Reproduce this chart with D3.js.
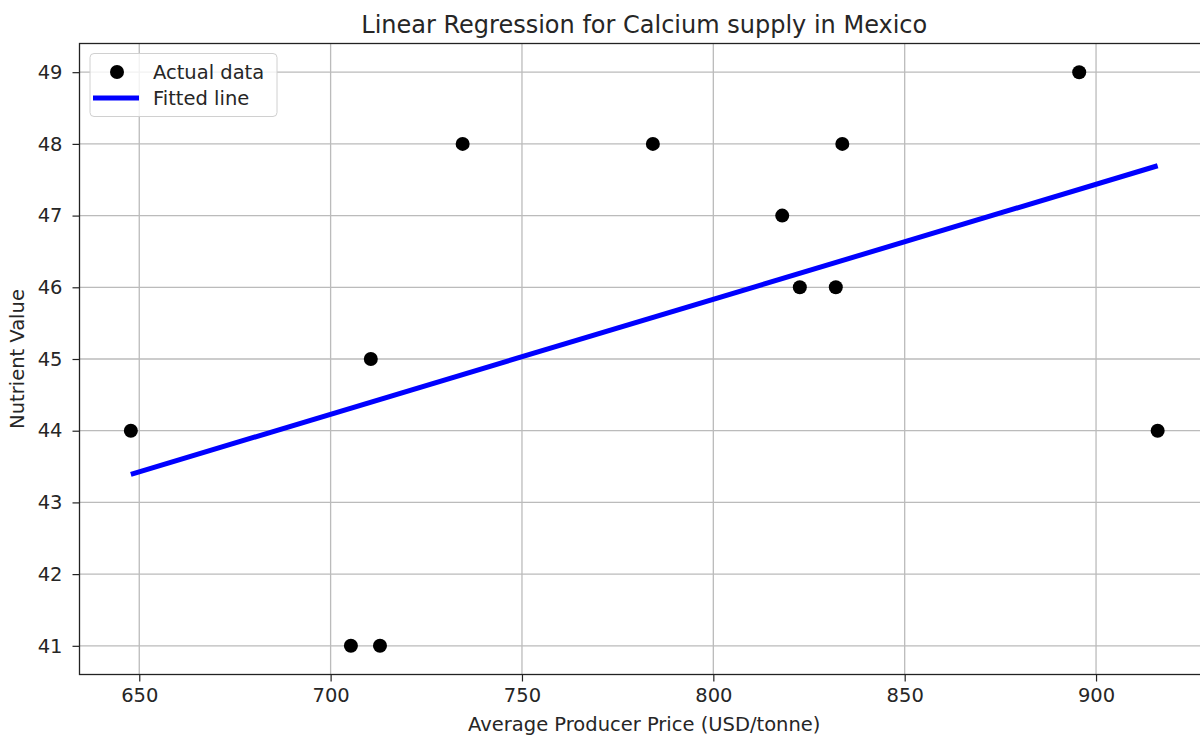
<!DOCTYPE html>
<html>
<head>
<meta charset="utf-8">
<script src="https://cdn.jsdelivr.net/npm/d3@7"></script>
<style>
  html, body { margin: 0; padding: 0; background: #fff; }
  svg { display: block; font-family: "DejaVu Sans", sans-serif; }
</style>
</head>
<body>
<svg id="chart" width="1200" height="737"></svg>
<script>
// Average producer price (USD/tonne) and nutrient value per observation
const prices = [647.8, 705.3, 712.9, 710.5, 734.5, 784.2, 833.7, 818.0, 822.6, 832.0, 895.6, 916.1];
const nutrients = [44, 41, 41, 45, 48, 48, 48, 47, 46, 46, 49, 44];

const xTicks = [650, 700, 750, 800, 850, 900];
const yTicks = [41, 42, 43, 44, 45, 46, 47, 48, 49];

const titleText = "Linear Regression for Calcium supply in Mexico";
const xLabel = "Average Producer Price (USD/tonne)";
const yLabel = "Nutrient Value";
const legendLabels = ["Actual data", "Fitted line"];

// Least-squares fit of nutrient value on price
const n = prices.length;
const mx = d3.mean(prices), my = d3.mean(nutrients);
let sxy = 0, sxx = 0;
for (let i = 0; i < n; i++) {
  sxy += (prices[i] - mx) * (nutrients[i] - my);
  sxx += (prices[i] - mx) ** 2;
}
const slope = sxy / sxx;
const intercept = my - slope * mx;
const fitted = prices.map(p => intercept + slope * p);

// Plot area with 5% padding around the data extent
const plotL = 79.5, plotR = 1209, plotT = 43.5, plotB = 674.5;
const [x0, x1] = d3.extent(prices);
const [y0, y1] = d3.extent(nutrients);
const xPad = (x1 - x0) * 0.05, yPad = (y1 - y0) * 0.05;

const x = d3.scaleLinear().domain([x0 - xPad, x1 + xPad]).range([plotL, plotR]);
const y = d3.scaleLinear().domain([y0 - yPad, y1 + yPad]).range([plotB, plotT]);

const svg = d3.select("#chart");
const textColor = "#262626";
const fs = 19.5;

// Grid
const grid = svg.append("g").attr("stroke", "#b0b0b0").attr("stroke-width", 1.3).attr("opacity", 0.85);
grid.selectAll("line.gx").data(xTicks).join("line")
  .attr("x1", d => x(d)).attr("x2", d => x(d)).attr("y1", plotT).attr("y2", plotB);
grid.selectAll("line.gy").data(yTicks).join("line")
  .attr("x1", plotL).attr("x2", plotR).attr("y1", d => y(d)).attr("y2", d => y(d));

// Axes
const xAxis = svg.append("g").attr("transform", `translate(0,${plotB})`)
  .call(d3.axisBottom(x).tickValues(xTicks).tickSize(7).tickPadding(7).tickFormat(d3.format("d")));
const yAxis = svg.append("g").attr("transform", `translate(${plotL},0)`)
  .call(d3.axisLeft(y).tickValues(yTicks).tickSize(7).tickPadding(10).tickFormat(d3.format("d")));
[xAxis, yAxis].forEach(a => {
  a.select(".domain").remove();
  a.selectAll("text").attr("font-size", fs).attr("fill", textColor).attr("font-family", "DejaVu Sans");
  a.selectAll("line").attr("stroke", "#222").attr("stroke-width", 1.2);
});

// Fitted line
const line = d3.line().x(d => x(d[0])).y(d => y(d[1]));
const ends = [d3.minIndex(prices), d3.maxIndex(prices)].map(i => [prices[i], fitted[i]]);
svg.append("path").datum(ends)
  .attr("d", line).attr("fill", "none").attr("stroke", "#0000ff").attr("stroke-width", 5);

// Data points
svg.append("g").selectAll("circle").data(prices).join("circle")
  .attr("cx", d => x(d)).attr("cy", (d, i) => y(nutrients[i])).attr("r", 7).attr("fill", "#000");

// Spines
svg.append("rect").attr("x", plotL).attr("y", plotT).attr("width", plotR - plotL).attr("height", plotB - plotT)
  .attr("fill", "none").attr("stroke", "#222").attr("stroke-width", 1.3);

// Title and axis labels
svg.append("text").attr("x", (plotL + plotR) / 2).attr("y", 33).attr("text-anchor", "middle")
  .attr("font-size", 24).attr("fill", textColor).text(titleText);
svg.append("text").attr("x", (plotL + plotR) / 2).attr("y", 731).attr("text-anchor", "middle")
  .attr("font-size", fs).attr("fill", textColor).text(xLabel);
svg.append("text").attr("transform", `translate(24,${(plotT + plotB) / 2}) rotate(-90)`).attr("text-anchor", "middle")
  .attr("font-size", fs).attr("fill", textColor).text(yLabel);

// Legend
const lg = svg.append("g");
lg.append("rect").attr("x", 90).attr("y", 53.5).attr("width", 187).attr("height", 63).attr("rx", 4)
  .attr("fill", "#fff").attr("fill-opacity", 0.8).attr("stroke", "#d0d0d0").attr("stroke-width", 1);
lg.append("circle").attr("cx", 117).attr("cy", 72).attr("r", 7).attr("fill", "#000");
lg.append("line").attr("x1", 93).attr("x2", 139).attr("y1", 98).attr("y2", 98)
  .attr("stroke", "#0000ff").attr("stroke-width", 5);
lg.selectAll("text").data(legendLabels).join("text")
  .attr("x", 153).attr("y", (d, i) => 72 + i * 26).attr("dy", "0.35em")
  .attr("font-size", fs).attr("fill", textColor).text(d => d);
</script>
</body>
</html>
